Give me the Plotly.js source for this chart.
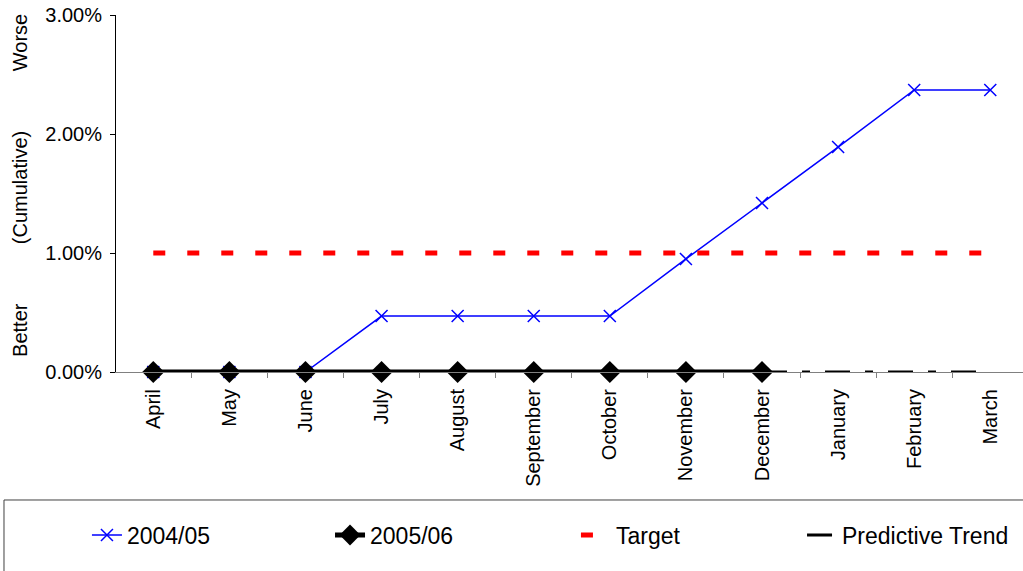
<!DOCTYPE html>
<html>
<head>
<meta charset="utf-8">
<script src="https://cdn.plot.ly/plotly-3.0.1.min.js"></script>
<style>html,body{margin:0;padding:0;background:#fff;}#chart{width:1023px;height:571px;}</style>
</head>
<body>
<div id="chart"></div>
<script>
const months = ['April','May','June','July','August','September','October','November','December','January','February','March'];
const series0405 = [0, 0, 0, 0.47, 0.47, 0.47, 0.47, 0.95, 1.42, 1.89, 2.37, 2.37];
const months0506 = ['April','May','June','July','August','September','October','November','December'];
const series0506 = [0, 0, 0, 0, 0, 0, 0, 0, 0];
const targetValues = [1, 1, 1, 1, 1, 1, 1, 1, 1, 1, 1, 1];
const trendMonths = ['December','January','February','March'];
const trendValues = [0, 0, 0, 0];
const yTicks = [0, 1, 2, 3];
const yTickText = yTicks.map(v => v.toFixed(2) + '%');

const FONT = 'Liberation Sans, Arial, sans-serif';

const traces = [
  {
    name: '2004/05', x: months, y: series0405, type: 'scatter', mode: 'lines+markers',
    line: {color: '#0000FF', width: 1.5},
    marker: {symbol: 'x-thin', size: 12, color: '#0000FF', line: {color: '#0000FF', width: 1.5}},
    cliponaxis: false, legend: 'legend'
  },
  {
    name: '2005/06', x: months0506, y: series0506, type: 'scatter', mode: 'lines+markers',
    line: {color: '#000000', width: 5},
    marker: {symbol: 'diamond', size: 17, color: '#000000'},
    cliponaxis: false, legend: 'legend2'
  },
  {
    name: 'Target', x: months, y: targetValues, type: 'scatter', mode: 'lines',
    line: {color: '#FF0000', width: 5, dash: '12px,22px'},
    cliponaxis: false, legend: 'legend3'
  },
  {
    name: 'Predictive Trend', x: trendMonths, y: trendValues, type: 'scatter', mode: 'lines',
    line: {color: '#000000', width: 3, dash: '25px,15px,8px,15px'},
    cliponaxis: false, legend: 'legend4'
  }
];

function legendAt(x) {
  return {
    orientation: 'h', xref: 'container', yref: 'container',
    x: x, xanchor: 'left', y: 0.063, yanchor: 'middle',
    font: {family: FONT, size: 23, color: '#000000'},
    bgcolor: 'rgba(0,0,0,0)', borderwidth: 0
  };
}

const layout = {
  width: 1023, height: 571,
  margin: {l: 116, r: 0, t: 15, b: 199, pad: 0},
  paper_bgcolor: '#ffffff', plot_bgcolor: '#ffffff',
  font: {family: FONT, size: 20, color: '#000000'},
  showlegend: true,
  xaxis: {
    type: 'category', categoryorder: 'array', categoryarray: months,
    range: [-0.49, 11.43], tickson: 'boundaries',
    ticks: 'outside', ticklen: 5, tickcolor: '#808080', tickwidth: 1,
    showline: true, linecolor: '#808080', linewidth: 1,
    showgrid: false, zeroline: false, tickangle: -90, ticklabelstandoff: 8,
    tickfont: {family: FONT, size: 20, color: '#000000'}
  },
  yaxis: {
    range: [0, 3], tickmode: 'array', tickvals: yTicks, ticktext: yTickText,
    ticks: 'outside', ticklen: 5, tickcolor: '#000000', tickwidth: 1,
    showline: true, linecolor: '#000000', linewidth: 1,
    showgrid: false, zeroline: false, ticklabelstandoff: 4,
    tickfont: {family: FONT, size: 20, color: '#000000'}
  },
  legend: legendAt(0.085),
  legend2: legendAt(0.3226),
  legend3: legendAt(0.563),
  legend4: legendAt(0.784),
  annotations: [
    {text: 'Worse', xref: 'paper', yref: 'paper', x: -0.1058, y: 0.921, xanchor: 'center', yanchor: 'middle', textangle: -90, showarrow: false, font: {family: FONT, size: 20, color: '#000'}},
    {text: '(Cumulative)', xref: 'paper', yref: 'paper', x: -0.1058, y: 0.515, xanchor: 'center', yanchor: 'middle', textangle: -90, showarrow: false, font: {family: FONT, size: 20, color: '#000'}},
    {text: 'Better', xref: 'paper', yref: 'paper', x: -0.1058, y: 0.118, xanchor: 'center', yanchor: 'middle', textangle: -90, showarrow: false, font: {family: FONT, size: 20, color: '#000'}}
  ],
  shapes: [
    {type: 'rect', xref: 'paper', yref: 'paper', x0: -0.1235, x1: 1.05, y0: -0.3585, y1: -0.62,
     line: {color: '#404040', width: 1}, fillcolor: 'rgba(0,0,0,0)', layer: 'below'}
  ]
};

Plotly.newPlot('chart', traces, layout, {displayModeBar: false, staticPlot: true});
</script>
</body>
</html>
